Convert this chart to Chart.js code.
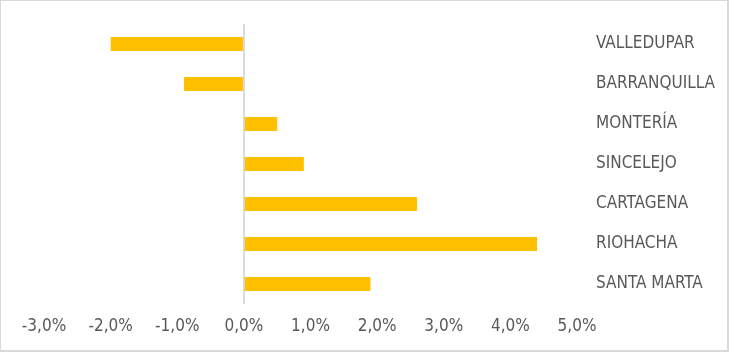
<!DOCTYPE html>
<html>
<head>
<meta charset="utf-8">
<script src="https://cdn.jsdelivr.net/npm/chart.js@4/dist/chart.umd.min.js"></script>
<style>
    body { margin: 0; background: #fff; }
    #wrap {
        width: 729px;
        height: 352px;
        box-sizing: border-box;
        border-style: solid;
        border-color: #d9d9d9;
        border-width: 1px 2px 2px 1px;
        background: #fff;
    }
    #chart { display: block; }
</style>
</head>
<body>
<div id="wrap"><canvas id="chart" width="726" height="349"></canvas></div>
<script>
// Datos (variacion %)
const ciudades = ['VALLEDUPAR', 'BARRANQUILLA', 'MONTERÍA', 'SINCELEJO', 'CARTAGENA', 'RIOHACHA', 'SANTA MARTA'];
const variacion = [-2.0, -0.9, 0.5, 0.9, 2.6, 4.4, 1.9];
const ejeMin = -3;
const ejeMax = 5;

const fuente = "'Liberation Sans Narrow', 'DejaVu Sans Condensed', sans-serif";

const ctx = document.getElementById('chart');
new Chart(ctx, {
    type: 'bar',
    data: {
        labels: ciudades,
        datasets: [{
            data: variacion,
            backgroundColor: '#FFC000',
            borderWidth: 0,
            barPercentage: 0.35,
            categoryPercentage: 1
        }]
    },
    options: {
        indexAxis: 'y',
        responsive: false,
        animation: false,
        events: [],
        layout: {
            padding: { left: 43, top: 23, right: 0, bottom: 0 }
        },
        plugins: {
            legend: { display: false },
            tooltip: { enabled: false }
        },
        scales: {
            x: {
                min: ejeMin,
                max: ejeMax,
                border: { display: false },
                grid: {
                    drawTicks: false,
                    lineWidth: 2,
                    // solo la linea del cero
                    color: c => (c.tick && c.tick.value === 0) ? '#d9d9d9' : 'rgba(0,0,0,0)'
                },
                ticks: {
                    stepSize: 1,
                    padding: 12,
                    color: '#595959',
                    font: { family: fuente, size: 17 },
                    callback: v => v.toFixed(1).replace('.', ',') + '%'
                },
                afterFit: s => { s.height = 46; s.paddingLeft = 0; s.paddingRight = 0; }
            },
            y: {
                position: 'right',
                border: { display: false },
                grid: { display: false, drawTicks: false },
                ticks: {
                    padding: 19,
                    color: '#595959',
                    font: { family: fuente, size: 17 }
                },
                afterFit: s => { s.width = 150; s.paddingTop = 0; s.paddingBottom = 0; }
            }
        }
    }
});
</script>
</body>
</html>
